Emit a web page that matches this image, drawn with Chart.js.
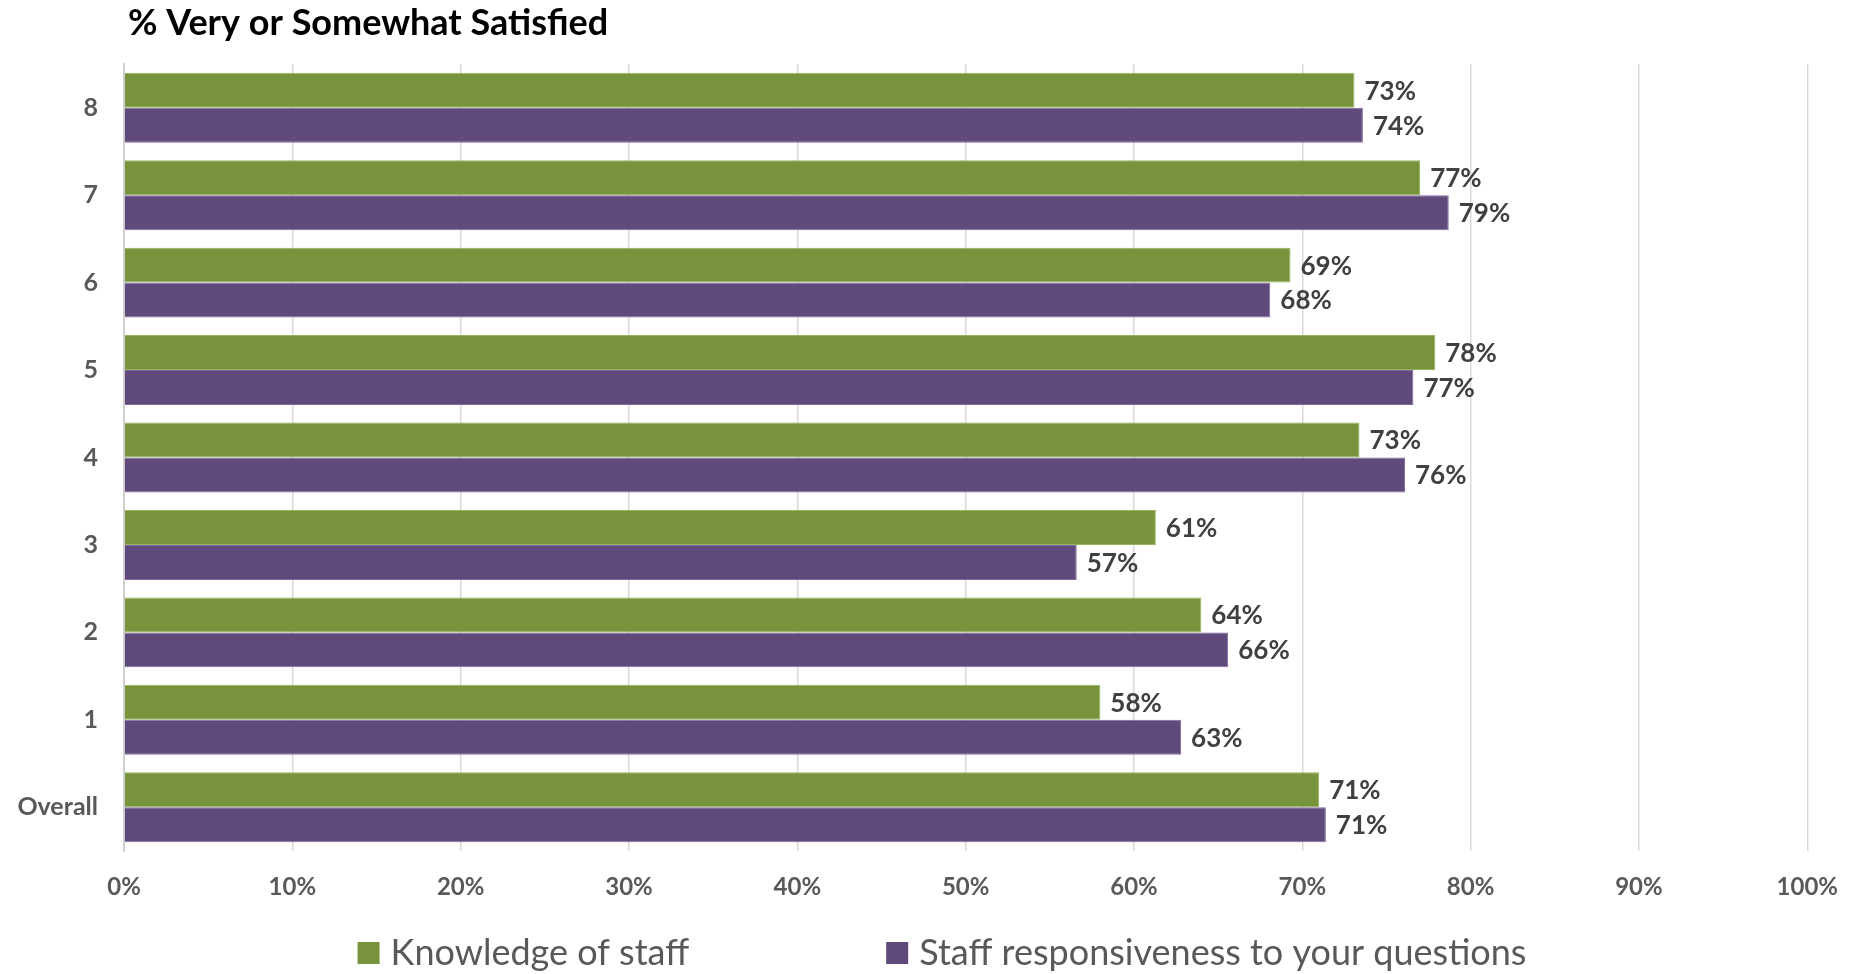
<!DOCTYPE html>
<html>
<head>
<meta charset="utf-8">
<title>% Very or Somewhat Satisfied</title>
<script src="https://cdn.jsdelivr.net/npm/chart.js@4.4.1/dist/chart.umd.min.js"></script>
<style>
    html, body { margin: 0; padding: 0; background: #fff; }
    #wrap { width: 1860px; height: 974px; }
</style>
</head>
<body>
<div id="wrap"><canvas id="satisfaction-chart" width="1860" height="974"></canvas></div>
<script>
    'use strict';

    // Survey results, top row first
    var categories = ['8', '7', '6', '5', '4', '3', '2', '1', 'Overall'];
    var knowledgeValues = [73.1, 77.0, 69.3, 77.9, 73.4, 61.3, 64.0, 58.0, 71.0];
    var responsivenessValues = [73.6, 78.7, 68.1, 76.6, 76.1, 56.6, 65.6, 62.8, 71.4];
    var seriesNames = ['Knowledge of staff', 'Staff responsiveness to your questions'];
    var tickLabels = ['0%', '10%', '20%', '30%', '40%', '50%', '60%', '70%', '80%', '90%', '100%'];
    var chartTitle = '% Very or Somewhat Satisfied';

    var GREEN = '#77933C';
    var PURPLE = '#604A7B';
    var LABEL_GREY = '#595959';

    Chart.defaults.font.family = 'Lato, "Open Sans", sans-serif';

    /**
     * Titulo arriba a la izquierda
     */
    var titlePlugin = {
        id: 'sheetTitle',
        afterDraw: function(chart) {
            var ctx = chart.ctx;
            ctx.save();
            ctx.font = 'bold 36px Lato';
            ctx.fillStyle = '#000';
            ctx.textAlign = 'left';
            ctx.textBaseline = 'middle';
            ctx.fillText(chartTitle, 128, 23);
            ctx.restore();
        }
    };

    /**
     * Valores al final de cada barra
     */
    var valueLabels = {
        id: 'valueLabels',
        afterDatasetsDraw: function(chart) {
            var ctx = chart.ctx;
            ctx.save();
            ctx.font = 'bold 26px Lato';
            ctx.fillStyle = '#404040';
            ctx.textAlign = 'left';
            ctx.textBaseline = 'middle';
            chart.data.datasets.forEach(function(ds, i) {
                chart.getDatasetMeta(i).data.forEach(function(bar, j) {
                    ctx.fillText(Math.round(ds.data[j]) + '%', bar.x + 10, bar.y + 1);
                });
            });
            ctx.restore();
        }
    };

    /**
     * Leyenda centrada abajo
     */
    var bottomLegend = {
        id: 'bottomLegend',
        afterDraw: function(chart) {
            var ctx = chart.ctx;
            var box = 22, textGap = 11, itemGap = 197;
            var y = 953;
            ctx.save();
            ctx.font = '36px Lato';
            ctx.textBaseline = 'middle';
            ctx.textAlign = 'left';

            var widths = chart.data.datasets.map(function(ds) {
                return box + textGap + ctx.measureText(ds.label).width;
            });
            var total = widths.reduce(function(a, b) { return a + b; }, 0) + itemGap * (widths.length - 1);
            var x = 942 - total / 2;

            chart.data.datasets.forEach(function(ds, i) {
                ctx.fillStyle = ds.backgroundColor;
                ctx.fillRect(x, y - box / 2, box, box);
                ctx.fillStyle = LABEL_GREY;
                ctx.fillText(ds.label, x + box + textGap, y);
                x += widths[i] + itemGap;
            });
            ctx.restore();
        }
    };

    var ctx = document.getElementById('satisfaction-chart');

    new Chart(ctx, {
        type: 'bar',
        data: {
            labels: categories,
            datasets: [{
                label: seriesNames[0],
                data: knowledgeValues,
                backgroundColor: GREEN,
                borderColor: '#94B35A',
                borderWidth: 1,
                categoryPercentage: 0.8,
                barPercentage: 1.0
            }, {
                label: seriesNames[1],
                data: responsivenessValues,
                backgroundColor: PURPLE,
                borderColor: '#8068A0',
                borderWidth: 1,
                categoryPercentage: 0.8,
                barPercentage: 1.0
            }]
        },
        options: {
            indexAxis: 'y',
            responsive: false,
            animation: false,
            devicePixelRatio: 1,
            layout: {
                padding: { top: 64, right: 52, bottom: 63, left: 0 }
            },
            plugins: {
                legend: { display: false },
                title: { display: false },
                tooltip: { enabled: false }
            },
            scales: {
                x: {
                    min: 0,
                    max: 100,
                    afterFit: function(scale) { scale.height = 60; },
                    afterBuildTicks: function(scale) {
                        scale.ticks = tickLabels.map(function(t, i) { return { value: i * 10 }; });
                    },
                    ticks: {
                        padding: 22,
                        color: LABEL_GREY,
                        font: { size: 24, weight: 'bold' },
                        maxRotation: 0,
                        callback: function(value, index) {
                            return tickLabels[index];
                        }
                    },
                    grid: {
                        color: '#D9D9D9',
                        lineWidth: 1.5,
                        drawTicks: false
                    },
                    border: { display: false }
                },
                y: {
                    afterFit: function(scale) { scale.width = 124; },
                    ticks: {
                        padding: 26,
                        color: LABEL_GREY,
                        font: { size: 25, weight: 'bold' }
                    },
                    grid: { display: false, drawTicks: false },
                    border: { display: true, color: '#D0D0D0', width: 2 }
                }
            }
        },
        plugins: [titlePlugin, valueLabels, bottomLegend]
    });
</script>
</body>
</html>
